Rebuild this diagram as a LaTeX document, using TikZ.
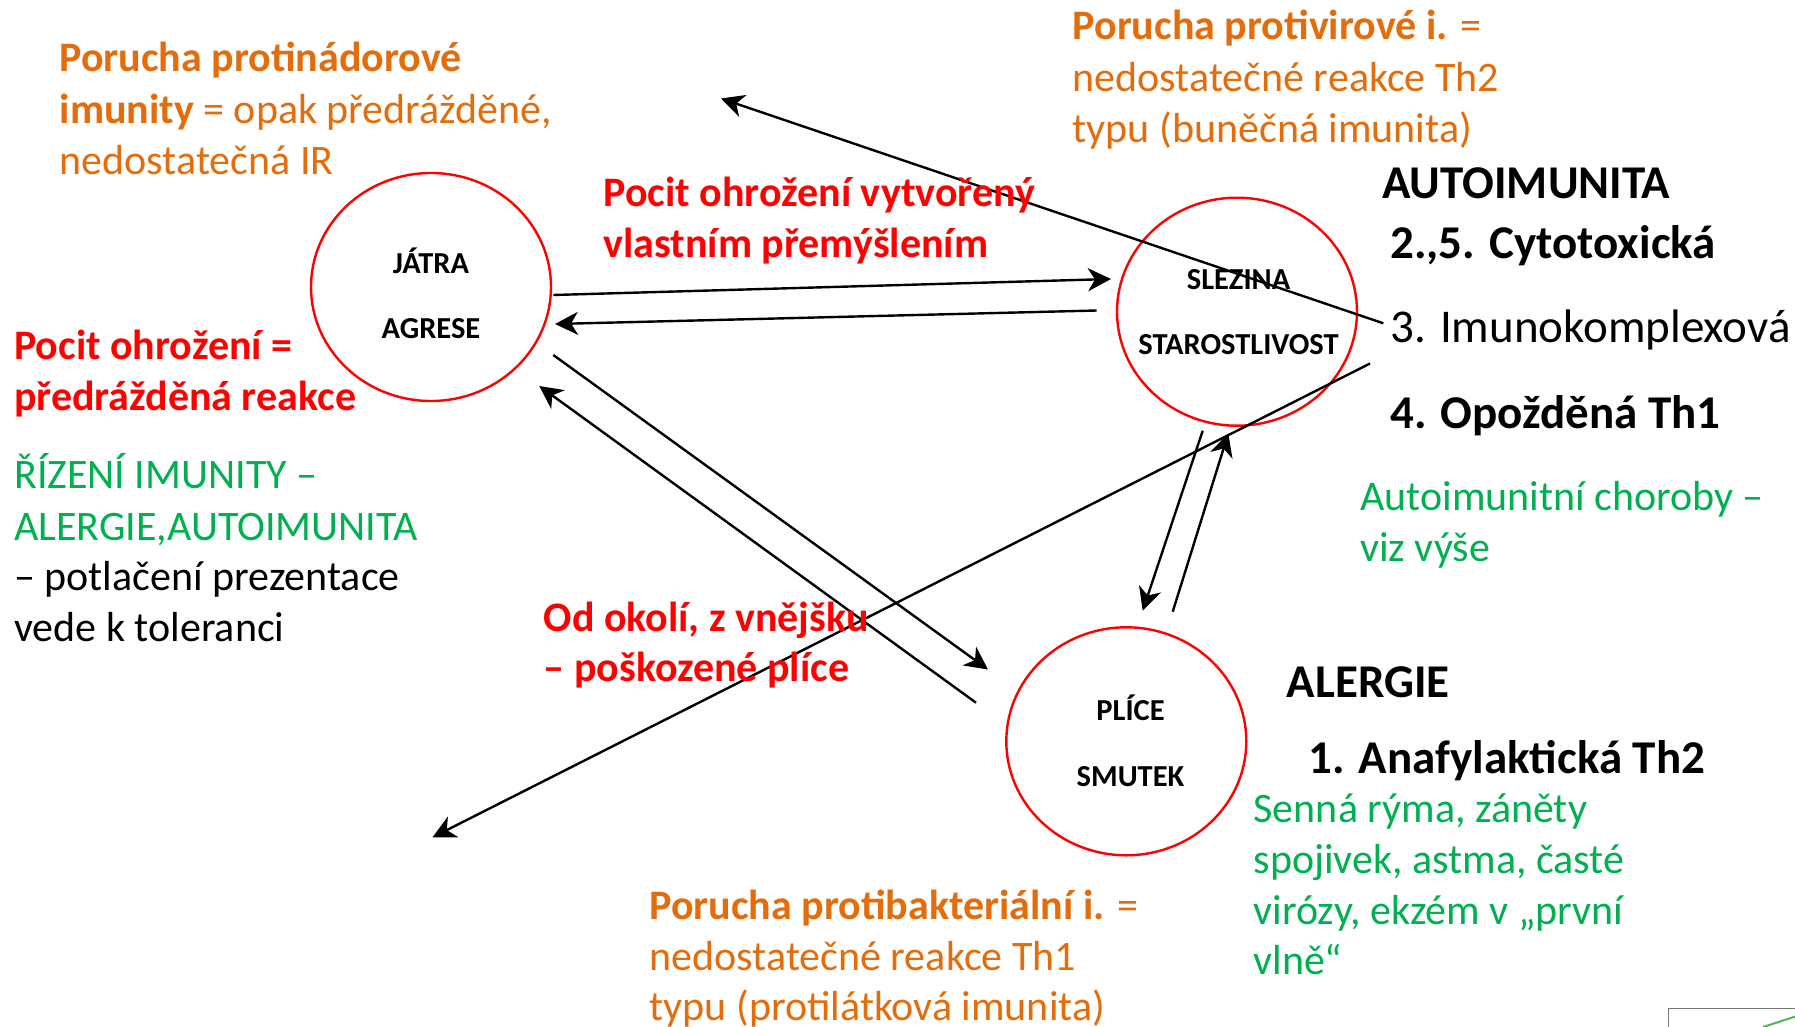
\documentclass[tikz,border=0pt]{standalone}
\usepackage{fontspec}
\setmainfont{Carlito}
\usetikzlibrary{arrows.meta,shapes.geometric}
\definecolor{orng}{RGB}{228,108,10}
\definecolor{rd}{RGB}{255,0,0}
\definecolor{grn}{RGB}{0,176,80}
\definecolor{frame}{RGB}{120,120,120}
\definecolor{leaf}{RGB}{80,180,80}

\begin{document}
\begin{tikzpicture}[x=1pt,y=-1pt,
  organ/.style={draw=rd, line width=2.4pt, ellipse, minimum width=240pt, minimum height=228pt, inner sep=0pt},
  organlbl/.style={anchor=base, inner sep=0pt, font=\fontsize{30.5}{36}\selectfont\bfseries},
  txt/.style={anchor=base west, inner sep=0pt, font=\fontsize{42}{51.5}\selectfont},
  big/.style={anchor=base west, inner sep=0pt, font=\fontsize{47}{56}\selectfont},
  link/.style={line width=2.4pt, -{Stealth[length=23pt,width=23pt,inset=7pt]}},
]
\useasboundingbox (0,0) rectangle (1795,1027);

% organs
\node[organ] (jatra) at (431,287) {};
\node[organ] (slezina) at (1237,311.7) {};
\node[organ] (plice) at (1126.3,741.3) {};
\node[organlbl] (jatraA) at (431,273.3) {JÁTRA};
\node[organlbl] (jatraB) at (431,338.3) {AGRESE};
\node[organlbl] (slezA) at (1238.5,289.3) {SLEZINA};
\node[organlbl] (slezB) at (1238.5,354) {STAROSTLIVOST};
\node[organlbl] (pliceA) at (1130.5,720.7) {PLÍCE};
\node[organlbl] (pliceB) at (1130.5,786) {SMUTEK};

% connector end points
\coordinate (a1s) at (553.3,295);   \coordinate (a1e) at (1111,279);
\coordinate (a2s) at (1096.7,310.5); \coordinate (a2e) at (555,324);
\coordinate (a3s) at (553.3,355);   \coordinate (a3e) at (988,669.5);
\coordinate (a4s) at (976,702.7);   \coordinate (a4e) at (539.3,386);
\coordinate (a5s) at (1202.7,430.7); \coordinate (a5e) at (1142.7,610.7);
\coordinate (a6s) at (1172.7,611.7); \coordinate (a6e) at (1228.3,433.3);
\coordinate (a7s) at (1383.3,323.3); \coordinate (a7e) at (721,98.5);
\coordinate (a8s) at (1370,363.5);  \coordinate (a8e) at (432.5,837.3);

\draw[link] (a1s) -- (a1e);
\draw[link] (a2s) -- (a2e);
\draw[link] (a3s) -- (a3e);
\draw[link] (a4s) -- (a4e);
\draw[link] (a5s) -- (a5e);
\draw[link] (a6s) -- (a6e);
\draw[link] (a7s) -- (a7e);
\draw[link] (a8s) -- (a8e);

% top left, orange
\node[txt, text=orng] (o1) at (59.5,72) {\textbf{Porucha protinádorové}};
\node[txt, text=orng] (o2) at (59.5,123.5) {\textbf{imunity} = opak předrážděné,};
\node[txt, text=orng] (o3) at (59.5,175) {nedostatečná IR};

% top right, orange
\node[txt, text=orng] (v1) at (1072.6,40) {\textbf{Porucha protivirové i.} =};
\node[txt, text=orng] (v2) at (1072.6,91.5) {nedostatečné reakce Th2};
\node[txt, text=orng] (v3) at (1072.6,143) {typu (buněčná imunita)};

% bottom, orange
\node[txt, text=orng] (b1) at (649.5,919) {\textbf{Porucha protibakteriální i.} =};
\node[txt, text=orng] (b2) at (649.5,970.5) {nedostatečné reakce Th1};
\node[txt, text=orng] (b3) at (649.5,1020) {typu (protilátková imunita)};

% autoimmunity list
\node[big] (au0) at (1382,198.3) {\textbf{AUTOIMUNITA}};
\node[big] (au1) at (1390,258.3) {\textbf{2.,5. Cytotoxická}};
\node[big] (au2) at (1390,342.7) {3. Imunokomplexová};
\node[big] (au3) at (1390,428.3) {\textbf{4. Opožděná Th1}};
\node[txt, text=grn] (ag1) at (1360,510.5) {Autoimunitní choroby –};
\node[txt, text=grn] (ag2) at (1360,561) {viz výše};

% allergy list
\node[big] (al0) at (1286.7,697.3) {\textbf{ALERGIE}};
\node[big] (al1) at (1308,773.3) {\textbf{1. Anafylaktická Th2}};
\node[txt, text=grn] (ls1) at (1253.5,822.7) {Senná rýma, záněty};
\node[txt, text=grn] (ls2) at (1253.5,873.3) {spojivek, astma, časté};
\node[txt, text=grn] (ls3) at (1253.5,924) {virózy, ekzém v „první};
\node[txt, text=grn] (ls4) at (1253.5,974.5) {vlně“};

% left column
\node[txt, text=rd] (p1) at (14,359.3) {\textbf{Pocit ohrožení =}};
\node[txt, text=rd] (p2) at (14,410) {\textbf{předrážděná reakce}};
\node[txt, text=grn] (r1) at (14,488.3) {ŘÍZENÍ IMUNITY –};
\node[txt, text=grn] (r2) at (14,540) {ALERGIE,AUTOIMUNITA};
\node[txt] (r3) at (14,590.5) {– potlačení prezentace};
\node[txt] (r4) at (14,641.7) {vede k toleranci};

% centre, red
\node[txt, text=rd] (c1) at (603.3,207) {\textbf{Pocit ohrožení vytvořený}};
\node[txt, text=rd] (c2) at (603.3,257.5) {\textbf{vlastním přemýšlením}};
\node[txt, text=rd] (d1) at (543.5,631.7) {\textbf{Od okolí, z vnějšku}};
\node[txt, text=rd] (d2) at (543.5,681.7) {\textbf{– poškozené plíce}};

% corner of a framed picture
\draw[frame, line width=1.5pt] (1668.3,1040) -- (1668.3,1008.3) -- (1800,1008.3);
\draw[leaf, line width=2pt] (1763,1027) -- (1800,1015);
\end{tikzpicture}
\end{document}
